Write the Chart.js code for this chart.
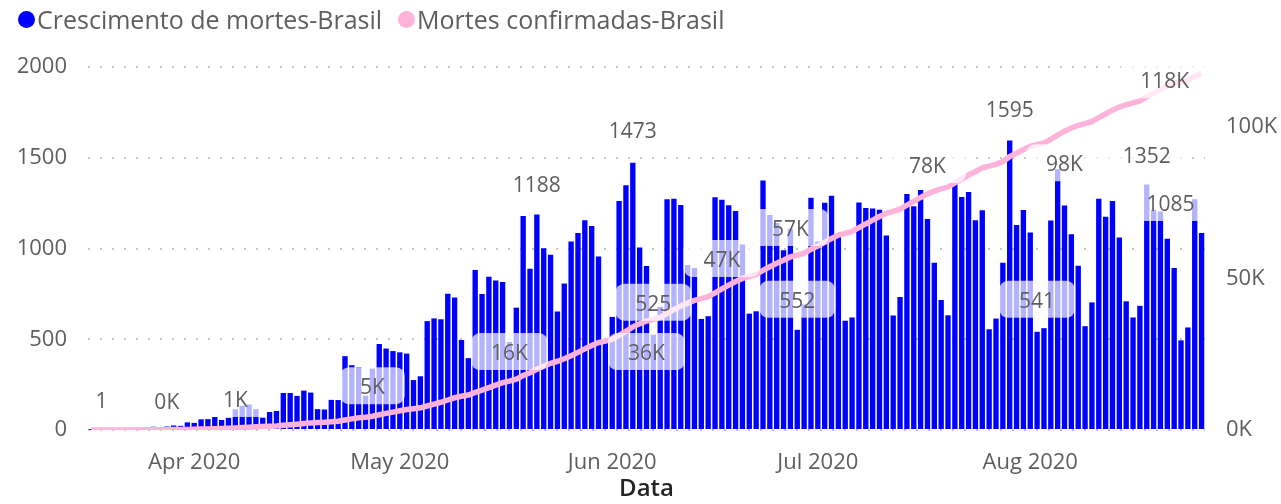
<!DOCTYPE html>
<html>
<head>
<meta charset="utf-8">
<title>Mortes Brasil</title>
<script src="https://cdn.jsdelivr.net/npm/chart.js@4.4.1/dist/chart.umd.min.js"></script>
<style>
  html, body { margin: 0; padding: 0; background: #ffffff; }
  #wrap { position: relative; width: 1281px; height: 504px; }
  #legend { position: absolute; left: 18px; top: 4px; display: flex; font: 25px 'Segoe UI', 'Open Sans', sans-serif; color: #605E5C; line-height: 30px; white-space: nowrap; }
  #legend .item { display: flex; align-items: center; margin-right: 16px; }
  #legend .dot { width: 17px; height: 17px; border-radius: 50%; margin-right: 2px; }
</style>
</head>
<body>
<div id="wrap">
  <canvas id="myChart" width="1281" height="504"></canvas>
  <div id="legend"></div>
</div>
<script>
const startDate = '2020-03-17';
const seriesNames = ['Crescimento de mortes-Brasil', 'Mortes confirmadas-Brasil'];
const seriesColors = ['#0000FF', '#FFB3DA'];

// new deaths per day, 17 Mar - 26 Aug 2020
const dailyDeaths = [
  1, 2, 3, 5, 4, 10, 9, 12, 13, 18, 15, 19, 25, 23, 42,
  39, 59, 60, 72, 55, 67, 114, 133, 141, 115, 68, 99, 105, 204, 204, 188, 217, 206, 115, 113, 166, 165, 407, 357, 346, 189, 338, 474, 449, 435,
  428, 421, 275, 296, 600, 615, 610, 751, 730, 496, 396, 881, 749, 844, 824, 816, 485, 674, 1179, 888, 1188, 1001, 965, 653, 807, 1039, 1086, 1156, 1124, 956, 480,
  623, 1262, 1349, 1473, 1005, 904, 525, 679, 1272, 1274, 1239, 909, 892, 612, 627, 1282, 1269, 1238, 1206, 1022, 641, 654, 1374, 1185, 1141, 990, 1109, 552, 692, 1280,
  1038, 1252, 1290, 1071, 602, 620, 1254, 1223, 1220, 1214, 1071, 631, 733, 1300, 1233, 1322, 1163, 921, 716, 632, 1367, 1284, 1311, 1156, 1211, 555, 614, 921, 1595, 1129, 1212,
  1088, 541, 561, 1154, 1437, 1237, 1079, 905, 572, 703, 1274, 1175, 1262, 1060, 709, 620, 684, 1352, 1212, 1204, 1054, 892, 494, 565, 1271, 1085
];

// confirmed deaths, running total
const totalDeaths = [
  1, 3, 6, 11, 15, 25, 34, 46, 59, 77, 92, 111, 136, 159, 201,
  240, 299, 359, 431, 486, 553, 667, 800, 941, 1056, 1124, 1223, 1328, 1532, 1736, 1924, 2141, 2347, 2462, 2575, 2741, 2906, 3313, 3670, 4016, 4205, 4543, 5017, 5466, 5901,
  6329, 6750, 7025, 7321, 7921, 8536, 9146, 9897, 10627, 11123, 11519, 12400, 13149, 13993, 14817, 15633, 16118, 16792, 17971, 18859, 20047, 21048, 22013, 22666, 23473, 24512, 25598, 26754, 27878, 28834, 29314,
  29937, 31199, 32548, 34021, 35026, 35930, 36455, 37134, 38406, 39680, 40919, 41828, 42720, 43332, 43959, 45241, 46510, 47748, 48954, 49976, 50617, 51271, 52645, 53830, 54971, 55961, 57070, 57622, 58314, 59594,
  60632, 61884, 63174, 64265, 64867, 65487, 66741, 67964, 69184, 70398, 71469, 72100, 72833, 74133, 75366, 76688, 77851, 78772, 79488, 80120, 81487, 82771, 84082, 85238, 86449, 87004, 87618, 88539, 90134, 91263, 92475,
  93563, 94104, 94665, 95819, 97256, 98493, 99572, 100477, 101049, 101752, 103026, 104201, 105463, 106523, 107232, 107852, 108536, 109888, 111100, 112304, 113358, 114250, 114744, 115309, 116580, 117665
];

const leftTicks = [0, 500, 1000, 1500, 2000];
const rightTicks = [0, 50000, 100000];
const monthNames = ['Jan', 'Feb', 'Mar', 'Apr', 'May', 'Jun', 'Jul', 'Aug', 'Sep', 'Oct', 'Nov', 'Dec'];

// one category per day
const dates = [];
const d0 = new Date(startDate + 'T12:00:00Z');
for (let i = 0; i < dailyDeaths.length; i++) {
  const d = new Date(d0.getTime() + i * 86400000);
  dates.push(d.toISOString().slice(0, 10));
}

const FONT = "'Segoe UI', 'Open Sans', sans-serif";

// data labels shown by the visual (dataset, day index, nudge)
const shownLabels = [
  { ds: 0, i: 0, dx: 10, dy: -28 },
  { ds: 1, i: 11, dx: 0, dy: -27 },
  { ds: 1, i: 21, dx: 0, dy: -27 },
  { ds: 1, i: 41, dx: 0, dy: -28 },
  { ds: 1, i: 61, dx: 0, dy: -27 },
  { ds: 0, i: 65, dx: 0, dy: -28 },
  { ds: 0, i: 79, dx: 0, dy: -31 },
  { ds: 1, i: 81, dx: 0, dy: 33 },
  { ds: 0, i: 82, dx: 0, dy: -30 },
  { ds: 1, i: 92, dx: 0, dy: -28 },
  { ds: 1, i: 102, dx: 0, dy: -27 },
  { ds: 0, i: 103, dx: 0, dy: -28 },
  { ds: 1, i: 122, dx: 0, dy: -27 },
  { ds: 0, i: 134, dx: 0, dy: -29 },
  { ds: 0, i: 138, dx: 0, dy: -30 },
  { ds: 1, i: 142, dx: 0, dy: 34 },
  { ds: 0, i: 154, dx: 0, dy: -28 },
  { ds: 1, i: 162, dx: -37, dy: 9 },
  { ds: 0, i: 162, dx: -31, dy: -28 }
];

const labelPlugin = {
  id: 'shownLabels',
  afterDatasetsDraw(chart) {
    const ctx = chart.ctx;
    ctx.save();
    ctx.font = '21px ' + FONT;
    ctx.textAlign = 'center';
    ctx.textBaseline = 'middle';
    const items = shownLabels.map(p => {
      const el = chart.getDatasetMeta(p.ds).data[p.i];
      const v = chart.data.datasets[p.ds].data[p.i];
      const text = p.ds === 0 ? String(v) : Math.round(v / 1000) + 'K';
      return { text, x: el.x + p.dx, y: el.y + p.dy };
    });
    items.forEach(it => {
      const w = ctx.measureText(it.text).width + 40;
      ctx.fillStyle = 'rgba(255,255,255,0.7)';
      ctx.beginPath();
      ctx.roundRect(it.x - w / 2, it.y - 21, w, 37, 9);
      ctx.fill();
    });
    ctx.fillStyle = '#605E5C';
    items.forEach(it => ctx.fillText(it.text, it.x, it.y));
    ctx.restore();
  }
};

// legend
const legendEl = document.getElementById('legend');
seriesNames.forEach((name, k) => {
  const item = document.createElement('span');
  item.className = 'item';
  const dot = document.createElement('span');
  dot.className = 'dot';
  dot.style.background = seriesColors[k];
  item.appendChild(dot);
  item.appendChild(document.createTextNode(name));
  legendEl.appendChild(item);
});

const ctx = document.getElementById('myChart').getContext('2d');
const myChart = new Chart(ctx, {
  type: 'bar',
  data: {
    labels: dates,
    datasets: [{
      type: 'bar',
      label: seriesNames[0],
      data: dailyDeaths,
      backgroundColor: seriesColors[0],
      borderWidth: 0,
      barPercentage: 0.78,
      categoryPercentage: 1.0,
      yAxisID: 'y',
      order: 2
    }, {
      type: 'line',
      label: seriesNames[1],
      data: totalDeaths,
      borderColor: seriesColors[1],
      backgroundColor: seriesColors[1],
      borderWidth: 5.5,
      pointRadius: 0,
      tension: 0,
      yAxisID: 'y1',
      order: 1
    }]
  },
  options: {
    responsive: false,
    animation: false,
    layout: { padding: { left: 0, right: 0, top: 67, bottom: 0 } },
    plugins: {
      legend: { display: false },
      tooltip: { enabled: false }
    },
    scales: {
      x: {
        grid: { display: false },
        border: { display: false },
        ticks: {
          autoSkip: false,
          maxRotation: 0,
          minRotation: 0,
          padding: 12,
          color: '#605E5C',
          font: { family: FONT, size: 22 },
          callback: function(val) {
            const s = this.getLabelForValue(val);
            if (s.slice(8) !== '01') return '';
            return monthNames[parseInt(s.slice(5, 7), 10) - 1] + ' ' + s.slice(0, 4);
          }
        },
        title: {
          display: true,
          text: 'Data',
          color: '#252423',
          font: { family: FONT, size: 24, weight: '600' },
          padding: { top: 0, bottom: 0 }
        },
        afterFit: function(scale) { scale.height = 74; }
      },
      y: {
        position: 'left',
        min: 0,
        max: 2000,
        afterBuildTicks: function(scale) { scale.ticks = leftTicks.map(v => ({ value: v })); },
        afterFit: function(scale) { scale.width = 88; },
        grid: { color: '#C8C6C4', lineWidth: 2, drawTicks: false },
        border: { display: false, dash: [2, 10] },
        ticks: {
          padding: 21,
          color: '#605E5C',
          font: { family: FONT, size: 22 },
          callback: v => String(v)
        }
      },
      y1: {
        position: 'right',
        min: 0,
        max: 119700,
        afterBuildTicks: function(scale) { scale.ticks = rightTicks.map(v => ({ value: v })); },
        afterFit: function(scale) { scale.width = 76; },
        grid: { display: false, drawTicks: false },
        border: { display: false },
        ticks: {
          padding: 21,
          color: '#605E5C',
          font: { family: FONT, size: 22 },
          callback: v => Math.round(v / 1000) + 'K'
        }
      }
    }
  },
  plugins: [labelPlugin]
});
</script>
</body>
</html>
